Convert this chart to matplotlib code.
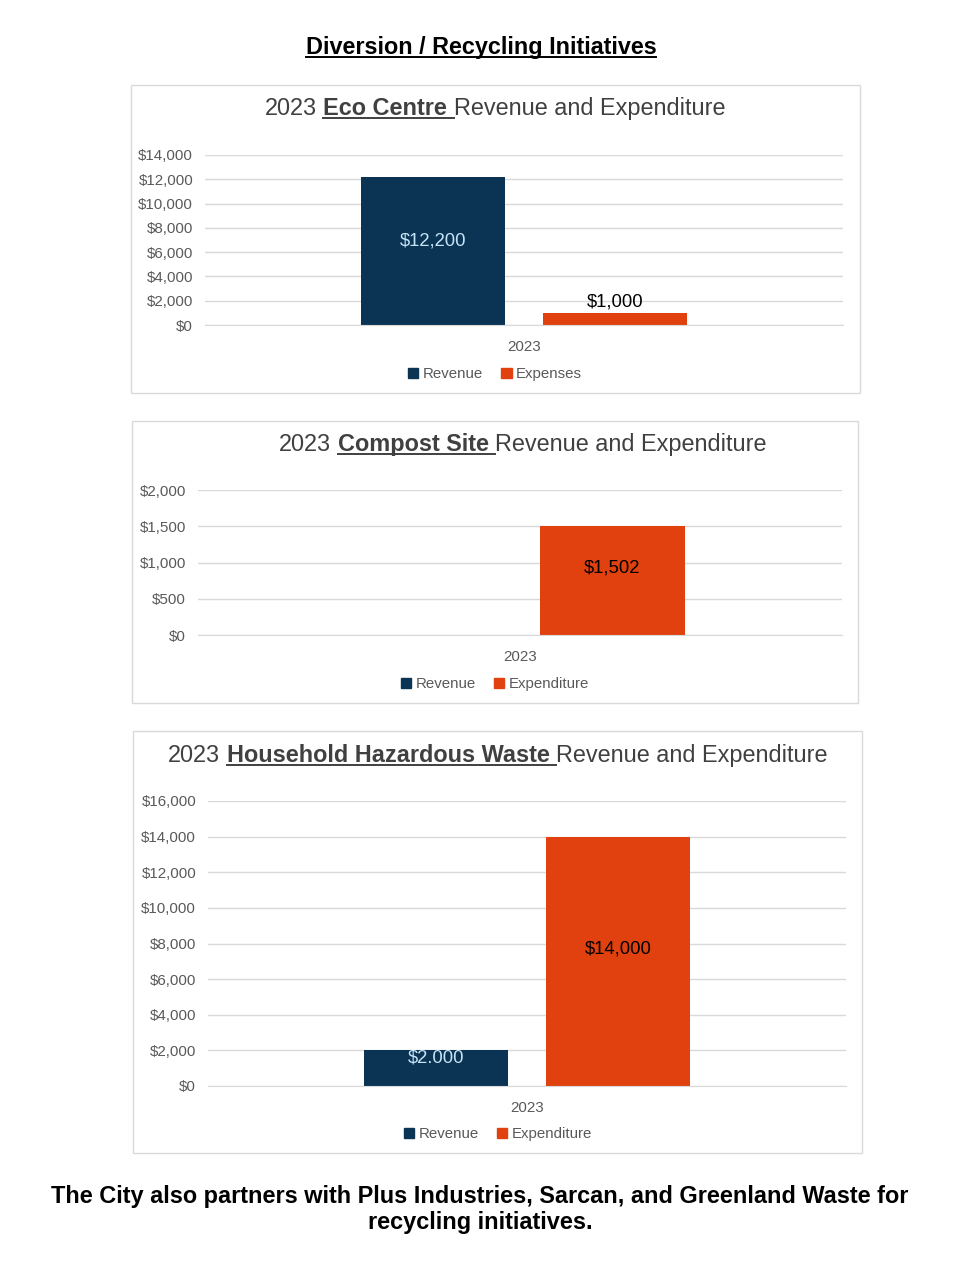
import numpy as np
import matplotlib
matplotlib.use("Agg")
import matplotlib.pyplot as plt
from matplotlib.patches import Rectangle
from matplotlib.lines import Line2D

plt.rcParams['font.family'] = ['Liberation Sans', 'DejaVu Sans']

#chart data
heading = "Diversion / Recycling Initiatives"
footer = ["The City also partners with Plus Industries, Sarcan, and Greenland Waste for",
          "recycling initiatives."]
category = "2023"
site_names = ["Eco Centre", "Compost Site", "Household Hazardous Waste"]
revenue_names = ["Revenue", "Revenue", "Revenue"]
expense_names = ["Expenses", "Expenditure", "Expenditure"]
revenue = [12200, 0, 2000]
expenditure = [1000, 1502, 14000]
revenue_labels = ["$12,200", None, "$2.000"]
expenditure_labels = ["$1,000", "$1,502", "$14,000"]
y_max = [14000, 2000, 16000]
y_step = [2000, 500, 2000]

#colours
NAVY = "#0b3354"
ORANGE = "#e0410f"
GRID = "#d9d9d9"
TICK = "#595959"
TITLE = "#404040"

W, H = 960, 1283
fig = plt.figure(figsize=(W/100, H/100), dpi=100)
renderer = fig.canvas.get_renderer()

def fx(x):
    return x / W

def fy(y):
    return 1 - y / H

def measure(text, **kw):
    t = fig.text(0, 0, text, **kw)
    w = t.get_window_extent(renderer).width
    t.remove()
    return w

def rich_line(parts, cx, base_y, size, color):
    #parts: (text, bold, underline) pieces separated by a single space
    widths = []
    for txt, bold, ul in parts:
        widths.append(measure(txt, fontsize=size, fontweight='bold' if bold else 'normal'))
    space = measure("x x", fontsize=size) - measure("xx", fontsize=size)
    total = sum(widths) + space * (len(parts) - 1)
    x = cx - total / 2
    for (txt, bold, ul), w in zip(parts, widths):
        fig.text(fx(x), fy(base_y), txt, fontsize=size, color=color,
                 fontweight='bold' if bold else 'normal', ha='left', va='baseline')
        if ul:
            extra = space if len(parts) > 1 else 0
            fig.add_artist(Line2D([fx(x), fx(x + w + extra)], [fy(base_y + 3)] * 2,
                                  color=color, lw=1.4))
        x += w + space

#layout in pixels: panel box, axes (left, right, top, bottom), title centre, legend centre
boxes = [(131, 85, 860, 393), (132, 421, 858, 703), (133, 731, 862, 1153)]
axes_px = [(205, 843, 155, 325), (198, 842, 490, 635), (208, 846, 801, 1086)]
title_xy = [(495, 115), (523, 451), (498, 762)]
legend_xy = [(495, 374), (495, 684), (498, 1134)]

rich_line([(heading, True, True)], 481, 54, 16.8, "black")

for i in range(3):
    bx0, by0, bx1, by1 = boxes[i]
    fig.add_artist(Rectangle((fx(bx0), fy(by1)), (bx1 - bx0) / W, (by1 - by0) / H,
                             transform=fig.transFigure, fill=False, edgecolor=GRID, lw=1))
    l, r, t, b = axes_px[i]
    ax = fig.add_axes([fx(l), fy(b), (r - l) / W, (b - t) / H])
    rb = ax.bar([-0.143], [revenue[i]], 0.225, color=NAVY)
    eb = ax.bar([0.143], [expenditure[i]], 0.225, color=ORANGE)
    ax.set_xlim(-0.5, 0.5)
    ax.set_ylim(0, y_max[i])
    ax.set_yticks(np.arange(0, y_max[i] + 1, y_step[i]))
    ax.yaxis.set_major_formatter(matplotlib.ticker.FuncFormatter(lambda v, p: "${:,.0f}".format(v)))
    ax.set_xticks([0])
    ax.set_xticklabels([category])
    ax.yaxis.grid(True, color=GRID, lw=1)
    ax.set_axisbelow(True)
    for s in ["left", "right", "top"]:
        ax.spines[s].set_visible(False)
    ax.spines["bottom"].set_color(GRID)
    ax.tick_params(axis='both', length=0, colors=TICK, labelsize=10.9)
    ax.tick_params(axis='y', pad=8.5)
    ax.tick_params(axis='x', pad=11)

    if revenue_labels[i]:
        ax.bar_label(rb, labels=[revenue_labels[i]], label_type='center', padding=7,
                     color="#c5e4f5", fontsize=13.3)
    if expenditure[i] < y_max[i] * 0.2:
        ax.bar_label(eb, labels=[expenditure_labels[i]], label_type='edge', padding=2,
                     color="black", fontsize=13.3)
    else:
        ax.bar_label(eb, labels=[expenditure_labels[i]], label_type='center', padding=9,
                     color="black", fontsize=13.3)

    tx, ty = title_xy[i]
    rich_line([("2023", False, False), (site_names[i], True, True),
               ("Revenue and Expenditure", False, False)], tx, ty, 16.9, TITLE)

    handles = [Rectangle((0, 0), 1, 1, color=NAVY), Rectangle((0, 0), 1, 1, color=ORANGE)]
    lx, ly = legend_xy[i]
    fig.legend(handles, [revenue_names[i], expense_names[i]], loc='center',
               bbox_to_anchor=(fx(lx), fy(ly)), ncol=2, frameon=False,
               handlelength=0.7, handleheight=0.7, handletextpad=0.3,
               columnspacing=1.2, fontsize=10.8, labelcolor=TICK)

fig.text(0.5, fy(1196), footer[0], ha='center', va='center', fontsize=16.9, fontweight='bold')
fig.text(0.5, fy(1222), footer[1], ha='center', va='center', fontsize=16.9, fontweight='bold')

fig.savefig("out.png", dpi=100, facecolor="white")
